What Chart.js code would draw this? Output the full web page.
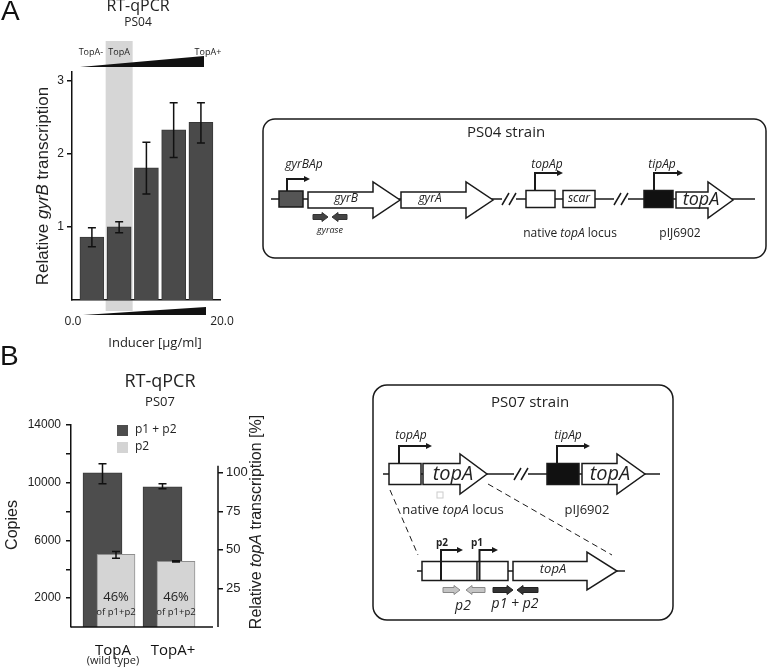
<!DOCTYPE html>
<html>
<head>
<meta charset="utf-8">
<script src="https://cdn.jsdelivr.net/npm/chart.js@4.4.1/dist/chart.umd.min.js"></script>
<style>
html, body { margin: 0; padding: 0; background: #fff; width: 768px; height: 667px; overflow: hidden; }
#wrapA { position: absolute; left: 0; top: 0; width: 250px; height: 330px; }
#wrapB { position: absolute; left: 0; top: 330px; width: 300px; height: 337px; }
#over { position: absolute; left: 0; top: 0; pointer-events: none; }
</style>
</head>
<body>
<div id="wrapA"><canvas id="chartA"></canvas></div>
<div id="wrapB"><canvas id="chartB"></canvas></div>
<canvas id="over" width="768" height="667"></canvas>
<script>
// Panel A - PS04, relative gyrB transcription with rising inducer
const inducerLabels = ['TopA-', 'TopA', '', '', 'TopA+'];
const gyrB = [0.86, 1.00, 1.81, 2.33, 2.43];
const gyrBLow = [0.73, 0.92, 1.45, 1.95, 2.15];
const gyrBHigh = [0.99, 1.07, 2.16, 2.70, 2.70];
const yTicksA = [1, 2, 3];

// Panel B - PS07, topA copies
const strains = ['TopA', 'TopA+'];
const strainNotes = ['(wild type)', ''];
const p1p2 = [10690, 9720];
const p1p2Low = [9930, 9590];
const p1p2High = [11310, 9930];
const p2 = [5030, 4550];
const p2Low = [4760, 4500];
const p2High = [5240, 4600];
const p2Share = ['46%', '46%'];
const yTicksB = [2000, 4000, 6000, 8000, 10000, 12000, 14000];
const yTicksPct = [25, 50, 75, 100];

Chart.defaults.font.family = 'Liberation Sans';
Chart.defaults.color = '#222';

// error bars for any dataset carrying errLow / errHigh
const errorBars = {
  id: 'errorBars',
  afterDatasetsDraw(chart) {
    const ctx = chart.ctx;
    const y = chart.scales.y;
    chart.data.datasets.forEach((ds, d) => {
      if (!ds.errLow) return;
      chart.getDatasetMeta(d).data.forEach((bar, i) => {
        const top = y.getPixelForValue(ds.errHigh[i]);
        const bot = y.getPixelForValue(ds.errLow[i]);
        ctx.save();
        ctx.strokeStyle = '#111';
        ctx.lineWidth = 1.5;
        ctx.beginPath();
        ctx.moveTo(bar.x, top); ctx.lineTo(bar.x, bot);
        ctx.moveTo(bar.x - 4, top); ctx.lineTo(bar.x + 4, top);
        ctx.moveTo(bar.x - 4, bot); ctx.lineTo(bar.x + 4, bot);
        ctx.stroke();
        ctx.restore();
      });
    });
  }
};

// grey band behind the wild-type level in panel A
const bandA = {
  id: 'bandA',
  beforeDraw(chart) {
    const ctx = chart.ctx;
    const cx = chart.scales.x.getPixelForValue(1);
    ctx.save();
    ctx.fillStyle = '#d6d6d6';
    ctx.fillRect(cx - 13.5, 41, 27, 270);
    ctx.restore();
  }
};

// wedges and TopA labels in panel A
const decoA = {
  id: 'decoA',
  afterDraw(chart) {
    const ctx = chart.ctx;
    const x = chart.scales.x;
    ctx.save();
    ctx.fillStyle = '#111';
    ctx.beginPath();
    ctx.moveTo(80, 67); ctx.lineTo(204, 56); ctx.lineTo(204, 67); ctx.closePath();
    ctx.fill();
    ctx.beginPath();
    ctx.moveTo(83, 315); ctx.lineTo(206, 307); ctx.lineTo(206, 315); ctx.closePath();
    ctx.fill();
    ctx.font = '9px "Open Sans"';
    ctx.textAlign = 'center';
    ctx.textBaseline = 'middle';
    ctx.fillStyle = '#222';
    inducerLabels.forEach((l, i) => {
      if (!l) return;
      const px = x.getPixelForValue(i) + (i === inducerLabels.length - 1 ? 7 : 0) + (i === 0 ? -1 : 0);
      ctx.fillText(l, px, 52);
    });
    ctx.restore();
  }
};

new Chart(document.getElementById('chartA'), {
  type: 'bar',
  data: {
    datasets: [{
      data: gyrB.map((v, i) => ({ x: i, y: v })),
      backgroundColor: '#4a4a4a',
      borderColor: '#383838',
      borderWidth: 1,
      barThickness: 24,
      errLow: gyrBLow,
      errHigh: gyrBHigh
    }]
  },
  options: {
    responsive: true,
    maintainAspectRatio: false,
    animation: false,
    layout: { padding: { top: 72, right: 30, left: 0, bottom: 0 } },
    plugins: { legend: { display: false }, tooltip: { enabled: false } },
    scales: {
      x: {
        type: 'linear', offset: false, min: -0.73, max: 4.7,
        ticks: { display: false },
        grid: { display: false },
        border: { color: '#111', width: 1.5 },
        afterFit(s) { s.height = 30; }
      },
      y: {
        min: 0, max: 3.12,
        afterBuildTicks(s) { s.ticks = yTicksA.map(v => ({ value: v })); },
        ticks: { font: { size: 12 }, color: '#222', padding: 3 },
        grid: { drawOnChartArea: false, tickLength: 5, color: '#111', lineWidth: 1.5 },
        border: { color: '#111', width: 1.5 },
        afterFit(s) { s.width = 72; }
      }
    }
  },
  plugins: [bandA, errorBars, decoA]
});

// legend, percentages, sub labels and shortened axis lines in panel B
const decoB = {
  id: 'decoB',
  afterDraw(chart) {
    const ctx = chart.ctx;
    const a = chart.chartArea;
    const x = chart.scales.x;
    const y2 = chart.scales.y2;
    ctx.save();
    ctx.strokeStyle = '#111';
    ctx.lineWidth = 1.5;
    ctx.beginPath();
    ctx.moveTo(a.left, a.bottom); ctx.lineTo(a.right - 5, a.bottom);
    ctx.moveTo(a.right, y2.getPixelForValue(0)); ctx.lineTo(a.right, y2.getPixelForValue(104.5));
    ctx.stroke();

    // legend
    ctx.font = '12px "Open Sans"';
    ctx.textBaseline = 'middle';
    ctx.textAlign = 'left';
    chart.data.datasets.forEach((ds, d) => {
      const ly = a.top + d * 17;
      ctx.fillStyle = ds.backgroundColor;
      ctx.fillRect(117, ly, 11, 11);
      ctx.fillStyle = '#222';
      ctx.fillText(ds.label, 135, ly + 5);
    });

    // share of p2 inside the light bars
    ctx.textAlign = 'center';
    chart.getDatasetMeta(1).data.forEach((bar, i) => {
      ctx.font = '13px "Open Sans"';
      ctx.fillText(p2Share[i], bar.x, a.bottom - 30);
      ctx.font = '9.5px "Open Sans"';
      ctx.fillText('of p1+p2', bar.x, a.bottom - 15);
    });

    ctx.font = '11px "Open Sans"';
    strainNotes.forEach((n, i) => {
      if (n) ctx.fillText(n, x.getPixelForValue(i), a.bottom + 34);
    });
    ctx.restore();
  }
};

new Chart(document.getElementById('chartB'), {
  type: 'bar',
  data: {
    datasets: [
      {
        label: 'p1 + p2',
        data: p1p2.map((v, i) => ({ x: i - 0.175, y: v })),
        backgroundColor: '#4d4d4d',
        borderColor: '#3a3a3a',
        borderWidth: 1,
        barThickness: 39,
        order: 1,
        errLow: p1p2Low,
        errHigh: p1p2High
      },
      {
        label: 'p2',
        data: p2.map((v, i) => ({ x: i + 0.05, y: v })),
        backgroundColor: '#d4d4d4',
        borderColor: '#8f8f8f',
        borderWidth: 1,
        barThickness: 38,
        order: 0,
        errLow: p2Low,
        errHigh: p2High
      }
    ]
  },
  options: {
    responsive: true,
    maintainAspectRatio: false,
    animation: false,
    datasets: { bar: { grouped: false } },
    layout: { padding: { top: 95, right: 0, left: 0, bottom: 0 } },
    plugins: { legend: { display: false }, tooltip: { enabled: false } },
    scales: {
      x: {
        type: 'linear', offset: false, min: -0.7, max: 1.75,
        afterBuildTicks(s) { s.ticks = strains.map((_, i) => ({ value: i })); },
        ticks: { callback: v => strains[v], font: { family: 'Open Sans', size: 15 }, color: '#111', padding: 7, autoSkip: false, maxRotation: 0 },
        grid: { display: false },
        border: { display: false },
        afterFit(s) { s.height = 40; }
      },
      y: {
        min: 0, max: 14000,
        afterBuildTicks(s) { s.ticks = yTicksB.map(v => ({ value: v })); },
        ticks: { callback: v => ((v / 2000) % 2 === 1 ? String(v) : ''), font: { size: 12 }, color: '#222', padding: 5 },
        grid: { drawOnChartArea: false, tickLength: 5, color: '#111', lineWidth: 1.5 },
        border: { color: '#111', width: 1.5 },
        afterFit(s) { s.width = 71; }
      },
      y2: {
        position: 'right',
        min: 0, max: 14000 / p1p2[0] * 100,
        afterBuildTicks(s) { s.ticks = yTicksPct.map(v => ({ value: v })); },
        ticks: { font: { size: 13 }, color: '#222', padding: 3 },
        grid: { drawOnChartArea: false, tickLength: 5, color: '#111', lineWidth: 1.5 },
        border: { display: false },
        afterFit(s) { s.width = 82; }
      }
    }
  },
  plugins: [errorBars, decoB]
});

// ---- titles, axis titles and strain diagrams ----
const ctx = document.getElementById('over').getContext('2d');
const INK = '#1a1a1a';

function rich(parts, x, y, align) {
  let w = 0;
  parts.forEach(p => { ctx.font = p[1]; w += ctx.measureText(p[0]).width; });
  let cx = align === 'left' ? x : x - w / 2;
  ctx.textAlign = 'left';
  ctx.textBaseline = 'middle';
  parts.forEach(p => { ctx.font = p[1]; ctx.fillText(p[0], cx, y); cx += ctx.measureText(p[0]).width; });
}
function txt(s, x, y, font) { rich([[s, font]], x, y); }
function vrich(parts, x, y) {
  ctx.save(); ctx.translate(x, y); ctx.rotate(-Math.PI / 2);
  rich(parts, 0, 0); ctx.restore();
}
function gene(x1, x2, hx, yc, bh, hh) {
  ctx.beginPath();
  ctx.moveTo(x1, yc - bh / 2); ctx.lineTo(hx, yc - bh / 2); ctx.lineTo(hx, yc - hh / 2);
  ctx.lineTo(x2, yc); ctx.lineTo(hx, yc + hh / 2); ctx.lineTo(hx, yc + bh / 2);
  ctx.lineTo(x1, yc + bh / 2); ctx.closePath();
  ctx.fillStyle = '#fff'; ctx.fill();
  ctx.lineWidth = 1.5; ctx.strokeStyle = INK; ctx.stroke();
}
function box(x1, x2, yc, h, fill) {
  ctx.fillStyle = fill; ctx.fillRect(x1, yc - h / 2, x2 - x1, h);
  ctx.lineWidth = 1.5; ctx.strokeStyle = INK; ctx.strokeRect(x1, yc - h / 2, x2 - x1, h);
}
function promoter(x, yb, yt, xe) {
  ctx.strokeStyle = INK; ctx.lineWidth = 2;
  ctx.beginPath(); ctx.moveTo(x, yb); ctx.lineTo(x, yt); ctx.lineTo(xe - 5, yt); ctx.stroke();
  ctx.fillStyle = INK;
  ctx.beginPath(); ctx.moveTo(xe, yt); ctx.lineTo(xe - 6, yt - 3); ctx.lineTo(xe - 6, yt + 3); ctx.closePath(); ctx.fill();
}
function brk(x, y) {
  ctx.fillStyle = '#fff'; ctx.fillRect(x, y - 2, 14, 4);
  ctx.strokeStyle = INK; ctx.lineWidth = 1.5;
  ctx.beginPath();
  ctx.moveTo(x, y + 6); ctx.lineTo(x + 7, y - 6);
  ctx.moveTo(x + 7, y + 6); ctx.lineTo(x + 14, y - 6);
  ctx.stroke();
}
function primer(x1, x2, y, dir, fill, edge) {
  const hl = 6, bh = 5, hh = 9;
  ctx.beginPath();
  if (dir > 0) {
    ctx.moveTo(x1, y - bh / 2); ctx.lineTo(x2 - hl, y - bh / 2); ctx.lineTo(x2 - hl, y - hh / 2);
    ctx.lineTo(x2, y); ctx.lineTo(x2 - hl, y + hh / 2); ctx.lineTo(x2 - hl, y + bh / 2); ctx.lineTo(x1, y + bh / 2);
  } else {
    ctx.moveTo(x2, y - bh / 2); ctx.lineTo(x1 + hl, y - bh / 2); ctx.lineTo(x1 + hl, y - hh / 2);
    ctx.lineTo(x1, y); ctx.lineTo(x1 + hl, y + hh / 2); ctx.lineTo(x1 + hl, y + bh / 2); ctx.lineTo(x2, y + bh / 2);
  }
  ctx.closePath();
  ctx.fillStyle = fill; ctx.fill();
  ctx.strokeStyle = edge; ctx.lineWidth = 1; ctx.stroke();
}
function line(x1, y1, x2, y2, w) {
  ctx.strokeStyle = INK; ctx.lineWidth = w || 1.5;
  ctx.beginPath(); ctx.moveTo(x1, y1); ctx.lineTo(x2, y2); ctx.stroke();
}

ctx.fillStyle = '#111';
// panel letters and titles
ctx.textAlign = 'left'; ctx.textBaseline = 'top';
ctx.font = '28px "Liberation Sans"';
ctx.fillText('A', 1, -2);
ctx.fillText('B', 0, 343);
ctx.fillStyle = '#222';
txt('RT-qPCR', 138, 6, '16px "Open Sans"');
txt('PS04', 138, 23, '12px "Open Sans"');
txt('RT-qPCR', 160, 382, '18px "Open Sans"');
txt('PS07', 160, 402, '13px "Open Sans"');

vrich([['Relative ', '17px "Liberation Sans"'], ['gyrB', 'italic 17px "Liberation Sans"'], [' transcription', '17px "Liberation Sans"']], 43, 186);
txt('0.0', 73, 322, '12px "Open Sans"');
txt('20.0', 222, 322, '12px "Open Sans"');
txt('Inducer [\u00b5g/ml]', 155, 343, '13px "Open Sans"');

vrich([['Copies', '16px "Liberation Sans"']], 13, 525);
vrich([['Relative ', '16px "Liberation Sans"'], ['topA', 'italic 16px "Liberation Sans"'], [' transcription [%]', '16px "Liberation Sans"']], 257, 522);

// PS04 strain box
ctx.strokeStyle = INK; ctx.lineWidth = 1.5;
ctx.beginPath(); ctx.roundRect(263, 119, 503, 139, 12); ctx.stroke();
ctx.fillStyle = '#222';
txt('PS04 strain', 506, 133, '15px "Open Sans"');
line(271, 199, 755, 199);
brk(502, 199);
brk(614, 199);
box(279, 303, 199, 16, '#555');
promoter(287, 191, 179, 310);
gene(308, 400, 373, 200, 16, 36);
gene(401, 493, 466, 200, 16, 36);
box(526, 555, 199, 17, '#fff');
promoter(535, 190, 173, 563);
box(563, 595, 199, 17, '#fff');
box(644, 673, 199, 17, '#111');
promoter(654, 190, 173, 683);
gene(676, 733, 708, 200, 16, 36);
primer(313, 328, 217, 1, '#444', '#333');
primer(332, 347, 217, -1, '#444', '#333');
ctx.fillStyle = '#222';
txt('gyrBAp', 304, 165, 'italic 12px "Open Sans"');
txt('gyrB', 346, 199, 'italic 12px "Open Sans"');
txt('gyrA', 430, 199, 'italic 12px "Open Sans"');
txt('topAp', 547, 165, 'italic 12px "Open Sans"');
txt('scar', 579, 199, 'italic 12px "Open Sans"');
txt('tipAp', 662, 165, 'italic 12px "Open Sans"');
txt('topA', 701, 200, 'italic 18px "Open Sans"');
txt('gyrase', 330, 230, 'italic 9px "Open Sans"');
rich([['native ', '12px "Open Sans"'], ['topA', 'italic 12px "Open Sans"'], [' locus', '12px "Open Sans"']], 570, 234);
txt('pIJ6902', 680, 234, '12px "Open Sans"');

// PS07 strain box
ctx.strokeStyle = INK; ctx.lineWidth = 1.5;
ctx.beginPath(); ctx.roundRect(373, 385, 300, 235, 14); ctx.stroke();
ctx.fillStyle = '#222';
txt('PS07 strain', 530, 403, '15px "Open Sans"');
line(383, 474, 660, 474);
brk(514, 474);
box(389, 421, 474, 21, '#fff');
promoter(399, 463, 446, 432);
gene(423, 487, 460, 474, 21, 40);
box(547, 579, 474, 21, '#111');
promoter(557, 463, 446, 590);
gene(582, 645, 617, 474, 21, 40);
ctx.fillStyle = '#222';
txt('topAp', 411, 436, 'italic 12px "Open Sans"');
txt('tipAp', 568, 436, 'italic 12px "Open Sans"');
txt('topA', 453, 474, 'italic 20px "Open Sans"');
txt('topA', 610, 474, 'italic 20px "Open Sans"');
ctx.strokeStyle = '#ccc'; ctx.lineWidth = 1; ctx.strokeRect(437, 492, 6, 6);
rich([['native ', '13px "Open Sans"'], ['topA', 'italic 13px "Open Sans"'], [' locus', '13px "Open Sans"']], 453, 510);
txt('pIJ6902', 587, 510, '13px "Open Sans"');

ctx.save();
ctx.setLineDash([6, 4]);
line(390, 490, 418, 555, 1);
line(488, 484, 612, 555, 1);
ctx.restore();

line(417, 571, 625, 571);
box(422, 508, 571, 19, '#fff');
line(477, 562, 477, 581, 1.5);
promoter(441, 581, 550, 463);
promoter(479.5, 581, 550, 498);
gene(513, 617, 587, 571, 19, 38);
ctx.fillStyle = '#222';
txt('p2', 442, 543, 'bold 10px "Open Sans"');
txt('p1', 477, 543, 'bold 10px "Open Sans"');
txt('topA', 553, 569, 'italic 13px "Open Sans"');
primer(443, 460, 590, 1, '#c4c4c4', '#888');
primer(466, 485, 590, -1, '#c4c4c4', '#888');
primer(493, 513, 590, 1, '#333', '#222');
primer(517, 538, 590, -1, '#333', '#222');
ctx.fillStyle = '#222';
txt('p2', 463, 606, 'italic 14px "Open Sans"');
txt('p1 + p2', 515, 604, 'italic 14px "Open Sans"');
</script>
</body>
</html>
